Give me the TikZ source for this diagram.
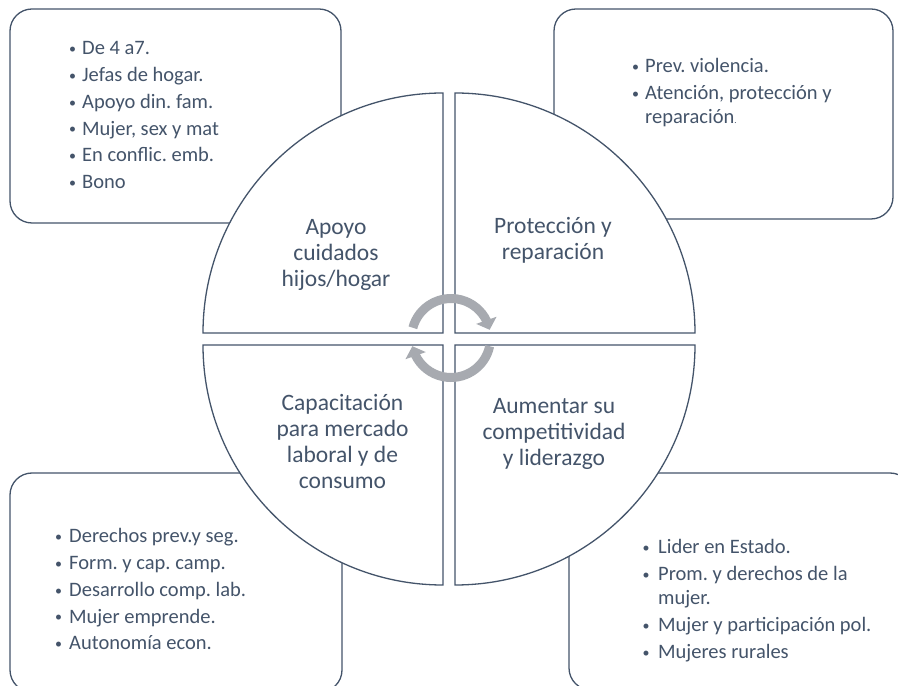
\documentclass[tikz,border=0pt]{standalone}
\usepackage{fontspec}
\setmainfont{Carlito}
\usetikzlibrary{arrows.meta,bending}
\definecolor{ink}{RGB}{68,84,106}
\definecolor{arrowgray}{RGB}{167,170,176}
\frenchspacing
\newcommand\bul[1]{\makebox[#1pt][l]{\raisebox{1.3pt}{\fontsize{14}{14}\selectfont\textbullet}}}
\newcommand\itm[2]{\hbox{\bul{#1}#2}}
\newcommand\cont[2]{\hbox{\hspace*{#1pt}#2}}
\newcommand\quadtext[1]{\vtop{\hsize=240pt\centering #1\par}}
\tikzset{
  roundbox/.style={draw=ink, line width=1.3pt, rectangle, rounded corners=22pt, fill=white, inner sep=0pt},
  quarter/.style={draw=ink, line width=1.3pt, fill=white},
  cyc/.style={draw=arrowgray, line width=9pt, -{Triangle[width=21pt,length=10pt]}},
  quadlabel/.style={text=ink, inner sep=0pt, anchor=base, font=\fontsize{23.5}{26}\selectfont},
  listwide/.style={text=ink, inner sep=0pt, anchor=base west, font=\fontsize{20.5}{26.7}\selectfont},
  listtight/.style={text=ink, inner sep=0pt, anchor=base west, font=\fontsize{20.5}{23.5}\selectfont},
}
\begin{document}
\begin{tikzpicture}[x=1pt,y=1pt]
\useasboundingbox (0,0) rectangle (898,686);
\clip (0,0) rectangle (898,686);
% outer boxes
\node[roundbox, minimum width=331pt, minimum height=214pt] (tlbox) at (175.5,570) {};
\node[roundbox, minimum width=339pt, minimum height=210pt] (trbox) at (723.5,572) {};
\node[roundbox, minimum width=332pt, minimum height=219pt] (blbox) at (176,103.5) {};
\node[roundbox, minimum width=343pt, minimum height=217pt] (brbox) at (740.5,104.5) {};
% quarters of the circle
\draw[quarter] (443,353) -- ++(-240,0) arc[start angle=180, end angle=90, radius=240] -- cycle;
\draw[quarter] (455,353) -- ++(0,240) arc[start angle=90, end angle=0, radius=240] -- cycle;
\draw[quarter] (455,341) -- ++(240,0) arc[start angle=0, end angle=-90, radius=240] -- cycle;
\draw[quarter] (443,341) -- ++(0,-240) arc[start angle=270, end angle=180, radius=240] -- cycle;
% cycle arrows
\coordinate (cen) at (451,348);
\draw[cyc] ([shift={(165:39.5)}]cen) arc[start angle=165, end angle=12, radius=39.5];
\draw[cyc] ([shift={(-12:39.5)}]cen) arc[start angle=-12, end angle=-168, radius=39.5];
% quarter labels
\node[quadlabel] (qtl) at (336,451) {\quadtext{Apoyo\\cuidados\\hijos/hogar}};
\node[quadlabel] (qtr) at (553,452) {\quadtext{Protección y\\reparación}};
\node[quadlabel] (qbl) at (342.5,275) {\quadtext{Capacitación\\para mercado\\laboral y de\\consumo}};
\node[quadlabel] (qbr) at (554,272) {\quadtext{Aumentar su\\competitividad\\y liderazgo}};
% lists
\node[listwide] (ltl) at (69,631) {\vtop{%
  \itm{13}{De 4 a7.}\itm{13}{Jefas de hogar.}\itm{13}{Apoyo din. fam.}%
  \itm{13}{Mujer, sex y mat}\itm{13}{En conflic. emb.}\itm{13}{Bono}}};
\node[listtight] (ltr) at (632,613) {\vtop{%
  \itm{13}{Prev. violencia.}\vskip3.5pt
  \itm{13}{Atención, protección y}%
  \cont{13}{reparación{\fontsize{9}{9}\selectfont.}}}};
\node[listwide] (lbl) at (55,143) {\vtop{%
  \itm{14}{Derechos prev.y seg.}\itm{14}{Form. y cap. camp.}\itm{14}{Desarrollo comp. lab.}%
  \itm{14}{Mujer emprende.}\itm{14}{Autonomía econ.}}};
\node[listtight] (lbr) at (642.5,132) {\vtop{%
  \itm{15.5}{Lider en Estado.}\vskip3.5pt
  \itm{15.5}{Prom. y derechos de la}%
  \cont{15.5}{mujer.}\vskip3.5pt
  \itm{15.5}{Mujer y participación pol.}\vskip3.5pt
  \itm{15.5}{Mujeres rurales}}};
\end{tikzpicture}
\end{document}
